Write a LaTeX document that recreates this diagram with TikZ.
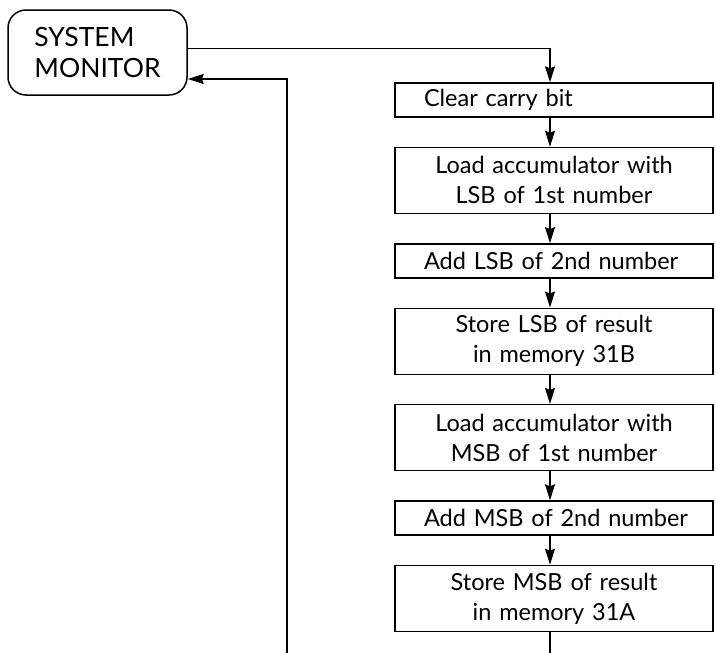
\documentclass[tikz,border=0pt]{standalone}
\usepackage{fontspec}
\setmainfont{Lato}
\usetikzlibrary{positioning,arrows.meta}
\newcommand\boxfont{\fontsize{23.5}{30}\selectfont\hyphenpenalty=10000\relax}
\begin{document}
\begin{tikzpicture}[x=1pt, y=1pt, node distance=29pt,
    stepbox/.style={draw, line width=1.4pt, text width=276pt, inner xsep=21pt,
        minimum height=34pt, font=\boxfont, align=left},
    tallbox/.style={stepbox, minimum height=66pt, align=center},
    monitor/.style={draw, line width=1.5pt, rounded corners=18pt, minimum width=179pt,
        minimum height=85pt, font=\fontsize{26.5}{31}\selectfont, align=left},
    flow/.style={line width=1.3pt, -{Stealth[length=16pt, width=10pt, inset=2pt]}},
    wire/.style={line width=1.3pt}]
\useasboundingbox (0,0) rectangle (716,-653);
\node[monitor] (mon) at (97.5,-52.5) {SYSTEM\\MONITOR};
\node[stepbox] (b1) at (554,-100) {\hspace*{8pt}Clear carry bit};
\node[tallbox, below=of b1] (b2) {Load accumulator with\\LSB of 1st number};
\node[stepbox, below=of b2] (b3) {\hspace*{8pt}Add LSB of 2nd number};
\node[tallbox, below=of b3] (b4) {Store LSB of result\\in memory 31B};
\node[tallbox, below=of b4] (b5) {Load accumulator with\\MSB of 1st number};
\node[stepbox, below=of b5] (b6) {\hspace*{8pt}Add MSB of 2nd number};
\node[tallbox, below=of b6] (b7) {Store MSB of result\\in memory 31A};
\coordinate (spine) at (550,0);
\coordinate (outend) at (550,-653);
\coordinate (loopend) at (287,-653);
% into the routine
\draw[flow] ([yshift=4pt]mon.east) -| (b1.north -| spine);
\foreach \a/\b in {b1/b2, b2/b3, b3/b4, b4/b5, b5/b6, b6/b7}
    \draw[flow] (\a.south -| spine) -- (\b.north -| spine);
\draw[wire] (b7.south -| spine) -- (outend);
% back to the monitor
\draw[flow] (loopend) |- ([yshift=-26.5pt]mon.east);
\end{tikzpicture}
\end{document}
